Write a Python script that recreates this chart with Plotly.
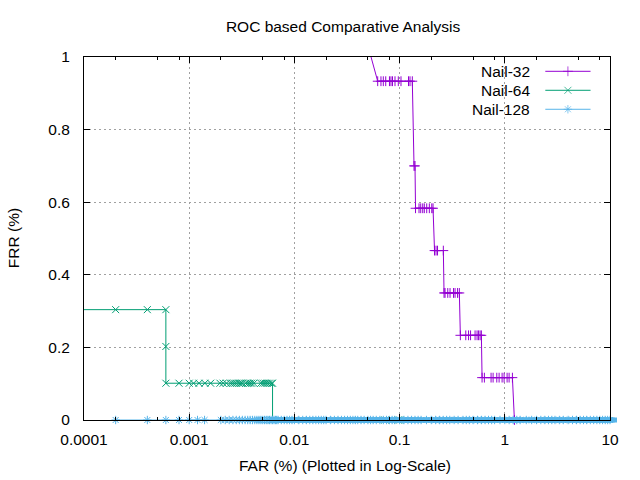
import plotly.graph_objects as go

# Nail-32 (FAR %, FRR %)
far_32 = [0.048, 0.0619, 0.0665, 0.0700, 0.0738, 0.0801, 0.0828, 0.0856, 0.0904, 0.0972, 0.1031,
          0.1215, 0.1256, 0.1321,
          0.1371, 0.1401,
          0.1417, 0.1530, 0.1588, 0.1659, 0.1718, 0.1811, 0.1917, 0.2021, 0.2079,
          0.2148, 0.2220, 0.2294, 0.2605,
          0.2645, 0.2704, 0.2869, 0.3016, 0.3256, 0.3366, 0.3556, 0.3698,
          0.3780, 0.4256, 0.4524, 0.4726, 0.5217, 0.5450, 0.5632, 0.5821, 0.5989,
          0.6081, 0.6397, 0.7405, 0.7740, 0.8392, 0.8828, 0.9426, 0.9847, 1.0516, 1.0988, 1.1812,
          1.234]
frr_32 = [1.05] + [0.9333] * 13 + [0.70] * 2 + [0.5833] * 9 + [0.4667] * 4 + [0.35] * 8 \
         + [0.2333] * 9 + [0.1167] * 11 + [0.0]

# Nail-64
far_64 = [0.00005, 0.0002, 0.0004, 0.0006,
          0.0006,
          0.0006, 0.0008, 0.001, 0.0011, 0.00124, 0.00141, 0.0016, 0.00196, 0.0021, 0.00226,
          0.00247, 0.00258, 0.0027, 0.00282, 0.00298, 0.0031, 0.00321, 0.00345, 0.00361,
          0.00377, 0.00392, 0.00412, 0.0048, 0.00503, 0.00526, 0.00551, 0.00577, 0.00605, 0.0062,
          0.0062, 0.0726, 0.0965, 0.1]
frr_64 = [0.304] * 4 + [0.2026] + [0.1013] * 29 + [0.0] * 4

# Nail-128
far_128 = [0.0002, 0.0004, 0.0006, 0.0008, 0.001, 0.0012, 0.0014,
           0.002, 0.0022, 0.0024, 0.0026, 0.0028, 0.003, 0.0032, 0.0034, 0.0036, 0.0038,
           0.004, 0.0042, 0.0044, 0.0046, 0.0048, 0.005, 0.0052, 0.0054, 0.0056, 0.0058,
           0.006, 0.0062, 0.0064, 0.0066, 0.0068, 0.007, 0.0075, 0.008, 0.0085, 0.009, 0.0095,
           0.01, 0.011, 0.012, 0.013, 0.014, 0.015, 0.016, 0.017, 0.018, 0.019, 0.02, 0.022,
           0.024, 0.026, 0.028, 0.03, 0.032, 0.034, 0.036, 0.038, 0.04, 0.043, 0.046, 0.05,
           0.053, 0.056, 0.06, 0.065, 0.07, 0.075, 0.08, 0.085, 0.09, 0.1, 0.11, 0.12, 0.13,
           0.14, 0.15, 0.16, 0.18, 0.2, 0.22, 0.24, 0.26, 0.28, 0.3, 0.33, 0.36, 0.4, 0.43,
           0.46, 0.5, 0.55, 0.6, 0.65, 0.7, 0.75, 0.8, 0.9, 1.0, 1.1, 1.2, 1.3, 1.4, 1.6, 1.8,
           2.0, 2.2, 2.4, 2.6, 2.8, 3.0, 3.3, 3.6, 4.0, 4.4, 4.8, 5.2, 5.6, 6.0, 6.5, 7.0, 7.5,
           8.0, 8.5, 9.0, 9.5, 10.0]
frr_128 = [0.0] * len(far_128)

x_ticks = [0.0001, 0.001, 0.01, 0.1, 1, 10]
x_labels = ['0.0001', '0.001', '0.01', '0.1', '1', '10']
x_minor = [m * d for d in [0.0001, 0.001, 0.01, 0.1, 1] for m in (2, 5, 8)]
y_ticks = [0, 0.2, 0.4, 0.6, 0.8, 1]
y_labels = ['0', '0.2', '0.4', '0.6', '0.8', '1']

series = [
    ('Nail-32', far_32, frr_32, '#9400d3', 'cross-thin-open'),
    ('Nail-64', far_64, frr_64, '#009e73', 'x-thin-open'),
    ('Nail-128', far_128, frr_128, '#56b4e9', 'asterisk-open'),
]

FONT = 'Liberation Sans, Arial, sans-serif'
fig = go.Figure()

for name, xs, ys, col, sym in series:
    # line, clipped to the plot box
    fig.add_trace(go.Scatter(
        x=xs, y=ys, mode='lines', name=name,
        line=dict(color=col, width=1), showlegend=False
    ))
    # points inside the range, drawn whole even on the border (as gnuplot does)
    pts = [(x, y) for x, y in zip(xs, ys) if 1e-4 <= x <= 10 and 0 <= y <= 1]
    fig.add_trace(go.Scatter(
        x=[p[0] for p in pts], y=[p[1] for p in pts], mode='markers', name=name,
        marker=dict(symbol=sym, size=7, color=col, line=dict(color=col, width=1)),
        cliponaxis=False, showlegend=False
    ))
    if name == 'Nail-128':
        # where points are dense the overlapping markers merge into a solid band
        i0 = next(i for i, v in enumerate(xs) if v >= 0.0068)
        fig.add_trace(go.Scatter(
            x=xs[i0:], y=ys[i0:], mode='markers',
            marker=dict(symbol='line-ew', size=10, color=col,
                        line=dict(color=col, width=5)),
            cliponaxis=False, showlegend=False, hoverinfo='skip'
        ))

# gnuplot-style key: text on the left, sample on the right
key_rows = [0.9606, 0.9083, 0.856]
for (name, xs, ys, col, sym), ry in zip(series, key_rows):
    fig.add_trace(go.Scatter(
        x=[0.877, 0.920, 0.963], y=[ry, ry, ry], xaxis='x2', yaxis='y2',
        mode='lines+markers', line=dict(color=col, width=1),
        marker=dict(symbol=sym, size=[0, 7, 0], color=col, line=dict(color=col, width=1)),
        showlegend=False, hoverinfo='skip'
    ))
    fig.add_annotation(x=0.852, y=ry, xref='paper', yref='paper', text=name,
                       showarrow=False, xanchor='right', yanchor='middle',
                       font=dict(family=FONT, size=15.5, color='black'))

grid = dict(showgrid=True, gridcolor='#a0a0a0', gridwidth=1, griddash='2px,3px')

fig.update_layout(
    width=640, height=480,
    margin=dict(l=84, r=30, t=57, b=60),
    paper_bgcolor='white', plot_bgcolor='white',
    font=dict(family=FONT, size=15.5, color='black'),
    title=dict(text='ROC based Comparative Analysis', x=0.536, y=0.944,
               xanchor='center', yanchor='middle',
               font=dict(family=FONT, size=15.5, color='black')),
    xaxis=dict(type='log', range=[-4, 1], tickvals=x_ticks, ticktext=x_labels,
               showline=True, linecolor='black', linewidth=1, mirror='ticks',
               ticks='inside', ticklen=6, tickcolor='black', ticklabelstandoff=5,
               minor=dict(tickvals=x_minor, ticks='inside', ticklen=3, tickcolor='black',
                          showgrid=False),
               zeroline=False, **grid),
    yaxis=dict(range=[0, 1], tickvals=y_ticks, ticktext=y_labels,
               showline=True, linecolor='black', linewidth=1, mirror='ticks',
               ticks='inside', ticklen=6, tickcolor='black', ticklabelstandoff=10,
               zeroline=False, **grid),
    xaxis2=dict(range=[0, 1], overlaying='x', visible=False, fixedrange=True),
    yaxis2=dict(range=[0, 1], overlaying='y', visible=False, fixedrange=True),
    showlegend=False,
)

fig.add_annotation(x=0.496, y=-0.1266, xref='paper', yref='paper',
                   text='FAR (%) (Plotted in Log-Scale)', showarrow=False,
                   xanchor='center', yanchor='middle')
fig.add_annotation(x=-0.135, y=0.501, xref='paper', yref='paper', text='FRR (%)',
                   textangle=-90, showarrow=False, xanchor='center', yanchor='middle')

# drop the page's default body margin so the 640x480 figure fills the window
fig.write_html('out.html', config={'displayModeBar': False},
               post_script="document.body.style.margin='0';")
